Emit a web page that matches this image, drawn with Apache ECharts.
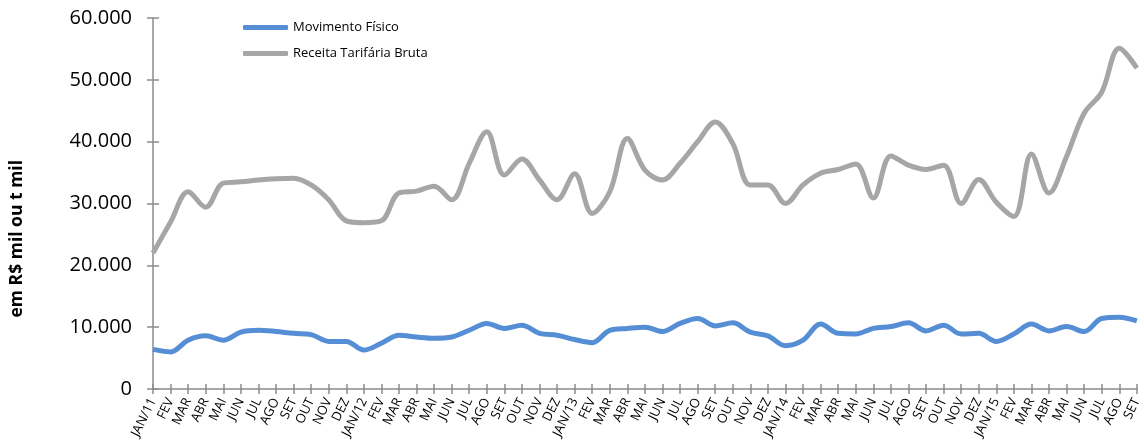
<!DOCTYPE html>
<html><head><meta charset="utf-8">
<script src="https://cdn.jsdelivr.net/npm/echarts@6/dist/echarts.min.js"></script>
<style>html,body{margin:0;padding:0;background:#fff}#c{width:1144px;height:443px}</style>
</head><body><div id="c"></div>
<script>
const categories = ["JAN/11","FEV","MAR","ABR","MAI","JUN","JUL","AGO","SET","OUT","NOV","DEZ",
"JAN/12","FEV","MAR","ABR","MAI","JUN","JUL","AGO","SET","OUT","NOV","DEZ",
"JAN/13","FEV","MAR","ABR","MAI","JUN","JUL","AGO","SET","OUT","NOV","DEZ",
"JAN/14","FEV","MAR","ABR","MAI","JUN","JUL","AGO","SET","OUT","NOV","DEZ",
"JAN/15","FEV","MAR","ABR","MAI","JUN","JUL","AGO","SET"];
const movimentoFisico = [6400,6000,7900,8600,7900,9200,9500,9300,9000,8800,7700,7700,
6300,7400,8700,8400,8200,8400,9500,10600,9800,10300,9000,8700,
8000,7500,9500,9800,10000,9300,10600,11400,10200,10700,9200,8600,
7000,7900,10500,9000,8900,9800,10100,10700,9400,10300,8900,9000,
7700,8900,10500,9400,10100,9300,11400,11600,11000];
const receitaTarifaria = [22000,27000,31900,29400,33300,33500,33800,34000,34100,33000,30600,27200,
26900,27200,31700,32000,32800,30600,36500,41600,34600,37200,33800,30600,
34800,28400,31900,40500,35400,33800,36500,40000,43200,39700,33000,33000,
30000,33000,34900,35500,36400,30900,37700,36200,35500,36200,30000,33900,
30200,27900,38000,31700,37600,44600,48000,55100,51900];
const yTicks = [0,10000,20000,30000,40000,50000,60000];

const chart = echarts.init(document.getElementById('c'));
const font = "'Open Sans', 'Noto Sans', sans-serif";
const axisColor = '#8c8c8c';
chart.setOption({
  animation:false,
  textStyle:{fontFamily:font},
  grid:{left:153,right:2,top:18,bottom:54,containLabel:false},
  legend:{orient:'vertical',left:238,top:16,itemGap:13,itemWidth:45,itemHeight:5,icon:'roundRect',
    textStyle:{fontSize:13,color:'#000',fontFamily:font},
    data:['Movimento Físico','Receita Tarifária Bruta']},
  graphic:[{type:'text',left:8,top:160,rotation:Math.PI/2,
    style:{text:'em R$ mil ou t mil',font:"bold 17.5px 'Open Sans', sans-serif",fill:'#000'}}],
  xAxis:[{type:'category',data:categories,boundaryGap:false,
    axisLine:{lineStyle:{color:axisColor,width:1.5}},
    axisTick:{show:true,length:5,lineStyle:{color:axisColor,width:1.5},interval:0},
    axisLabel:{interval:0,rotate:64,fontSize:13,color:'#000',margin:10,fontFamily:font},
    splitLine:{show:false}},
   {type:'category',data:categories,boundaryGap:false,position:'bottom',
    axisLine:{show:false},axisTick:{show:true,inside:true,length:5,lineStyle:{color:axisColor,width:1.5},interval:0},
    axisLabel:{show:false},splitLine:{show:false}}],
  yAxis:[{type:'value',min:0,max:60000,interval:10000,
    axisLine:{show:true,lineStyle:{color:axisColor,width:1.5}},
    axisTick:{show:true,length:6,lineStyle:{color:axisColor,width:1.5}},
    axisLabel:{fontSize:20,color:'#000',margin:21,fontFamily:font,
      formatter:v=>yTicks.includes(v)?(v===0?'0':(v/1000)+'.000'):''},
    splitLine:{show:false}},
   {type:'value',min:0,max:60000,interval:10000,position:'left',
    axisLine:{show:false},axisTick:{show:true,inside:true,length:6,lineStyle:{color:axisColor,width:1.5}},
    axisLabel:{show:false},splitLine:{show:false}}],
  series:[
    {name:'Movimento Físico',type:'line',data:movimentoFisico,smooth:0.35,symbol:'none',
      lineStyle:{color:'#558ED5',width:5},itemStyle:{color:'#558ED5'}},
    {name:'Receita Tarifária Bruta',type:'line',data:receitaTarifaria,smooth:0.35,symbol:'none',
      lineStyle:{color:'#A6A6A6',width:5},itemStyle:{color:'#A6A6A6'}}
  ]
});
</script></body></html>
